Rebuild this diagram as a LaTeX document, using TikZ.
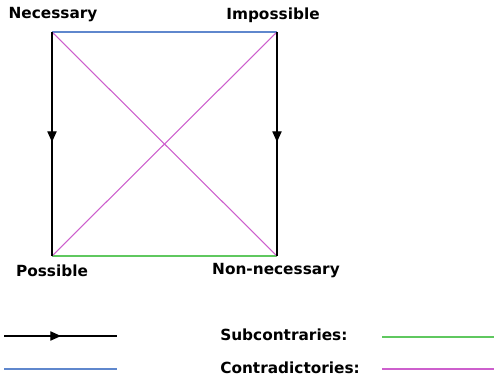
\documentclass[tikz,border=0pt]{standalone}
\usepackage{fontspec}
\setmainfont{DejaVu Sans}
\usepackage{xcolor}
\usepackage{tikz}
\usetikzlibrary{arrows.meta}

\definecolor{contraryblue}{RGB}{95,135,205}
\definecolor{subgreen}{RGB}{95,200,95}
\definecolor{contramag}{RGB}{205,95,205}

\tikzset{
  lbl/.style={font=\fontsize{11.5}{13}\selectfont\bfseries, inner sep=0pt},
  implies/.style={-{Triangle[length=8pt, width=7pt]}, black, line width=0.8pt},
  plain/.style={black, line width=0.8pt}
}

\begin{document}
\begin{tikzpicture}[x=0.75pt, y=-0.75pt]
\useasboundingbox (0,0) rectangle (494,380);
% corners of the square
\coordinate (nec) at (52,32);
\coordinate (imp) at (277,32);
\coordinate (pos) at (52,256);
\coordinate (nonnec) at (277,256);
\coordinate (lmid) at (52,142);
\coordinate (rmid) at (277,142);
% corner labels
\node[lbl] (necl) at (53,15) {Necessary};
\node[lbl] (impl) at (273,15) {Impossible};
\node[lbl] (posl) at (52,271) {Possible};
\node[lbl] (nonnecl) at (276,271) {Non-necessary};
% contraries
\draw[contraryblue, line width=0.8pt] (nec) -- (imp);
% subcontraries
\draw[subgreen, line width=0.8pt] (pos) -- (nonnec);
% contradictories
\draw[contramag, line width=0.8pt] (nec) -- (nonnec);
\draw[contramag, line width=0.8pt] (imp) -- (pos);
% subalternation
\draw[plain] (nec) -- (pos);
\draw[implies] (nec) -- (lmid);
\draw[plain] (imp) -- (nonnec);
\draw[implies] (imp) -- (rmid);
% legend
\coordinate (ka) at (4,336);
\coordinate (kmid) at (61,336);
\coordinate (kb) at (117,336);
\draw[plain] (ka) -- (kb);
\draw[implies] (ka) -- (kmid);
\coordinate (kc) at (4,369);
\coordinate (kd) at (117,369);
\draw[contraryblue, line width=0.8pt] (kc) -- (kd);
\node[lbl, anchor=west] (subl) at (220,335) {Subcontraries:};
\coordinate (ke) at (382,337);
\coordinate (kf) at (494,337);
\draw[subgreen, line width=0.8pt] (ke) -- (kf);
\node[lbl, anchor=west] (contl) at (220,368) {Contradictories:};
\coordinate (kg) at (382,369);
\coordinate (kh) at (494,369);
\draw[contramag, line width=0.8pt] (kg) -- (kh);
\end{tikzpicture}
\end{document}
